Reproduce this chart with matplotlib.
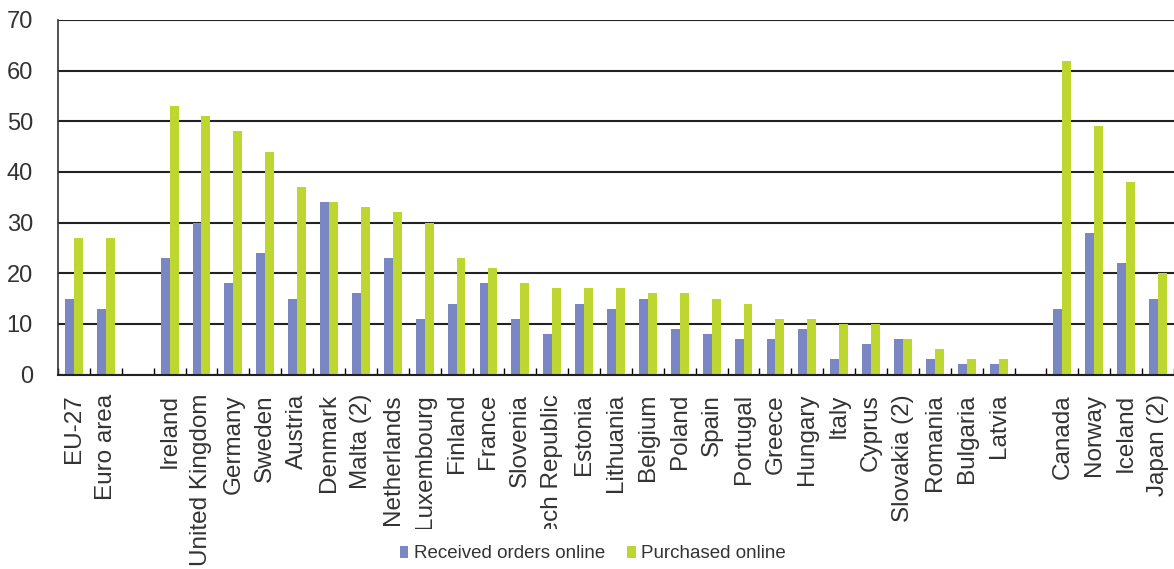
import numpy as np
import matplotlib.pyplot as plt

plt.rcParams['font.family'] = ['Liberation Sans', 'DejaVu Sans']

# Laender (leere Eintraege = Luecken zwischen den Gruppen)
laender = ['EU-27', 'Euro area', '', 'Ireland', 'United Kingdom', 'Germany',
           'Sweden', 'Austria', 'Denmark', 'Malta (2)', 'Netherlands',
           'Luxembourg', 'Finland', 'France', 'Slovenia', 'Czech Republic',
           'Estonia', 'Lithuania', 'Belgium', 'Poland', 'Spain', 'Portugal',
           'Greece', 'Hungary', 'Italy', 'Cyprus', 'Slovakia (2)', 'Romania',
           'Bulgaria', 'Latvia', '', 'Canada', 'Norway', 'Iceland', 'Japan (2)']

# Anteile in %
received = [15, 13, np.nan, 23, 30, 18, 24, 15, 34, 16, 23, 11, 14, 18, 11, 8,
            14, 13, 15, 9, 8, 7, 7, 9, 3, 6, 7, 3, 2, 2, np.nan, 13, 28, 22, 15]
purchased = [27, 27, np.nan, 53, 51, 48, 44, 37, 34, 33, 32, 30, 23, 21, 18, 17,
             17, 17, 16, 16, 15, 14, 11, 11, 10, 10, 7, 5, 3, 3, np.nan, 62, 49,
             38, 20]

farbe_blau = '#7b87c2'
farbe_gruen = '#bed730'
textfarbe = '#333333'

fig = plt.figure(figsize=(11.74, 5.69), dpi=100)
ax = fig.add_axes([58 / 1174, 1 - 374.5 / 569, 1 - 58 / 1174, (374.5 - 20) / 569])

x = np.arange(len(laender))
breite = 0.28
ax.bar(x - breite / 2, received, breite, color=farbe_blau,
       label='Received orders online', zorder=3)
ax.bar(x + breite / 2, purchased, breite, color=farbe_gruen,
       label='Purchased online', zorder=3)

# Achsen
ax.set_xlim(-0.5, len(laender) - 0.5)
ax.set_ylim(0, 70)
ax.set_yticks(np.arange(0, 71, 10))
ax.yaxis.grid(True, color='#222222', linewidth=1.5, zorder=1)
ax.set_axisbelow(True)
for s in ['top', 'right']:
    ax.spines[s].set_visible(False)
ax.spines['left'].set_color('#333333')
ax.spines['left'].set_linewidth(1.2)
ax.spines['bottom'].set_color('#222222')
ax.spines['bottom'].set_linewidth(1.5)
ax.spines['bottom'].set_zorder(4)

ax.tick_params(axis='y', length=0, pad=18, labelsize=17, colors=textfarbe)
for lab in ax.get_yticklabels():
    lab.set_family(['Liberation Sans Narrow', 'Liberation Sans'])

ax.set_xticks(x)
ax.set_xticklabels(laender)
ax.tick_params(axis='x', which='major', length=0, pad=14, labelsize=17.5,
               labelrotation=90, colors=textfarbe)
ax.set_xticks(np.arange(-0.5, len(laender), 1), minor=True)
ax.tick_params(axis='x', which='minor', direction='in', length=5, width=1,
               color='black')

# Legende mit weissem Hintergrund, verdeckt zu lange Beschriftungen
leg = fig.legend(loc='center', bbox_to_anchor=(0.505, 15 / 569), ncol=2,
                 frameon=True, facecolor='white', edgecolor='none',
                 framealpha=1, fancybox=False, fontsize=13.5,
                 handlelength=0.45, handleheight=0.6, handletextpad=0.3,
                 columnspacing=1.2, borderpad=0.9, borderaxespad=0)
leg.set_zorder(10)
for t in leg.get_texts():
    t.set_color(textfarbe)

fig.savefig('out.png', dpi=100)
